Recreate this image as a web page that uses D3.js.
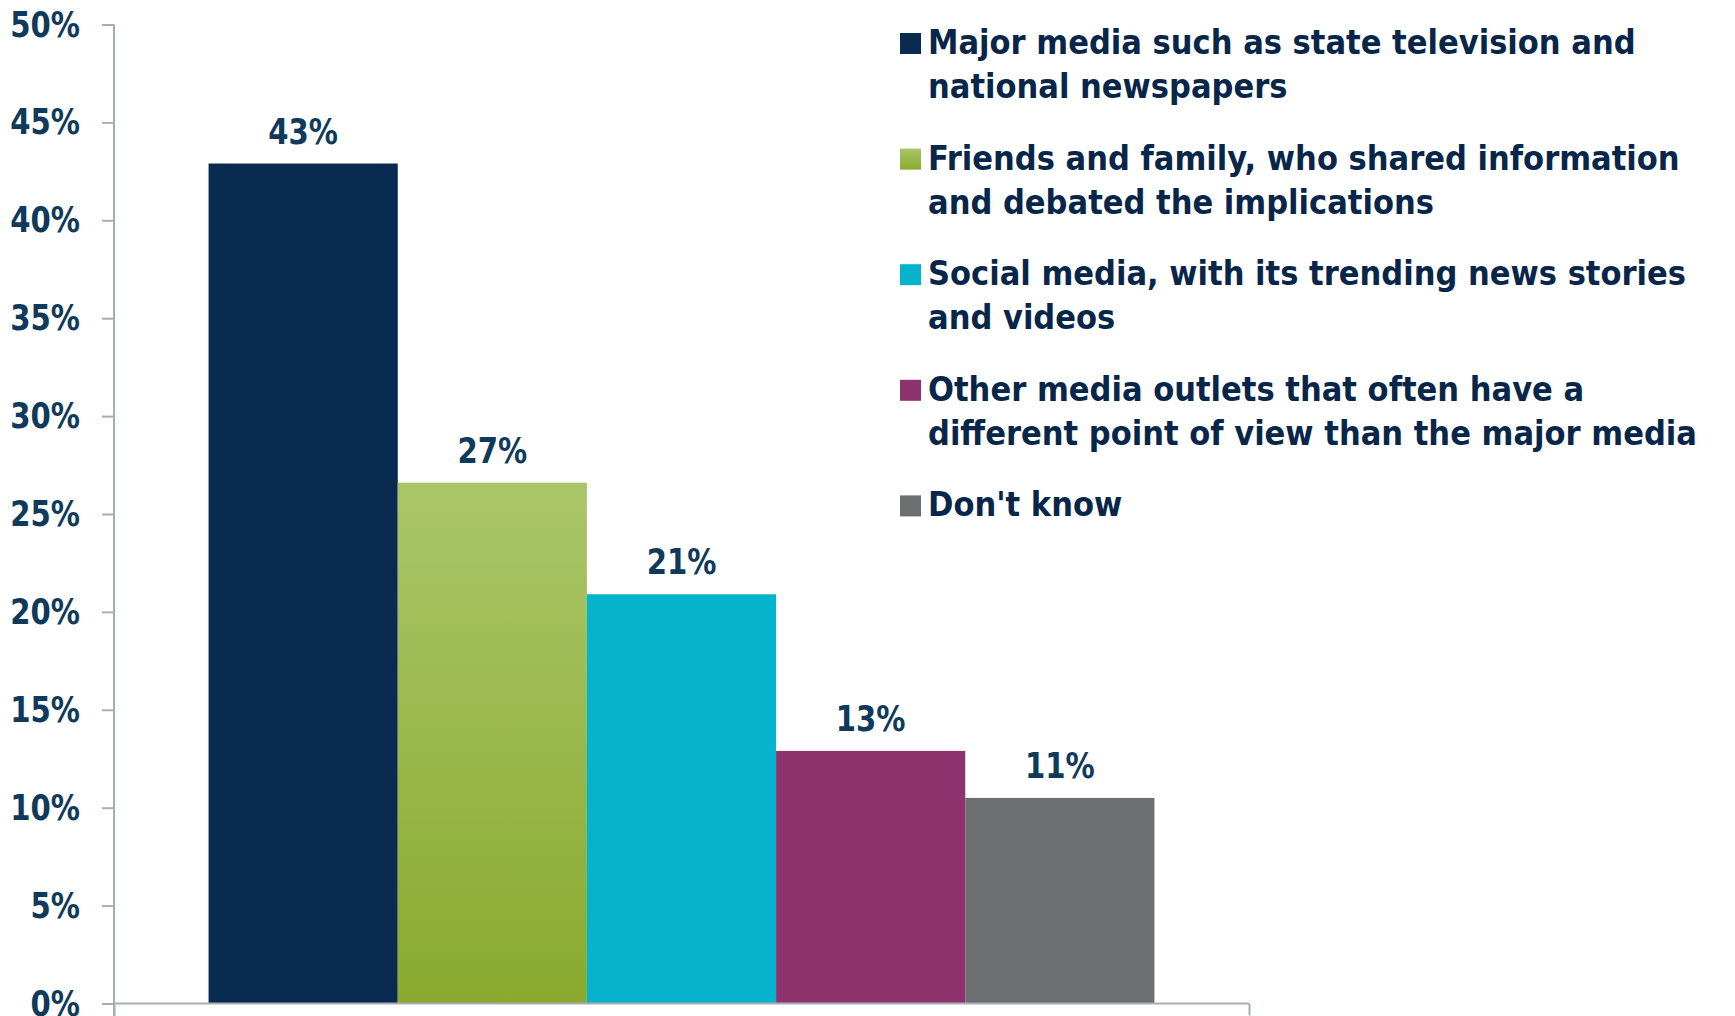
<!DOCTYPE html>
<html>
<head>
<meta charset="utf-8">
<script src="https://cdn.jsdelivr.net/npm/d3@7"></script>
<style>
  body { margin: 0; background: #ffffff; }
  text { font-family: "DejaVu Sans Condensed", "DejaVu Sans", sans-serif; font-weight: bold; font-stretch: condensed; }
  .axis path, .axis line { stroke: #a7acb5; stroke-width: 2; }
</style>
</head>
<body>
<div id="body"></div>
<script>
var category = ["Sources"];
var series = ["Major media such as state television and national newspapers",
              "Friends and family, who shared information and debated the implications",
              "Social media, with its trending news stories and videos",
              "Other media outlets that often have a different point of view than the major media",
              "Don't know"];
var legendLines = [["Major media such as state television and", "national newspapers"],
                   ["Friends and family, who shared information", "and debated the implications"],
                   ["Social media, with its trending news stories", "and videos"],
                   ["Other media outlets that often have a", "different point of view than the major media"],
                   ["Don't know"]];
var values = [42.9, 26.6, 20.9, 12.9, 10.5];
var valueLabels = ["43%", "27%", "21%", "13%", "11%"];
var yTicks = [0, 5, 10, 15, 20, 25, 30, 35, 40, 45, 50];
var colors = ["#082b4f", "url(#greenGrad)", "#05b3cc", "#8e326d", "#6d6e70"];

var width = 1735, height = 1016;
var margin = {top: 24.5, left: 114, bottom: 12.5};
var plotRight = 1249;
var squeeze = 0.9; // numbers in the original are a bit narrower

var svg = d3.select("#body").append("svg")
    .attr("width", width)
    .attr("height", height);

var defs = svg.append("defs");
var grad = defs.append("linearGradient")
    .attr("id", "greenGrad")
    .attr("x1", 0).attr("y1", 0).attr("x2", 0).attr("y2", 1);
grad.append("stop").attr("offset", "0%").attr("stop-color", "#aac669");
grad.append("stop").attr("offset", "100%").attr("stop-color", "#89aa2e");

var y = d3.scaleLinear()
    .domain([0, 50])
    .range([height - margin.bottom, margin.top]);

var x0 = d3.scaleBand()
    .domain(category)
    .range([margin.left, plotRight])
    .paddingOuter(0.1);

var x1 = d3.scaleBand()
    .domain(series)
    .range([0, x0.bandwidth()]);

// bars
var bars = svg.append("g").attr("class", "bars")
    .attr("transform", "translate(" + x0(category[0]) + ",0)");

bars.selectAll("rect")
    .data(values)
  .enter().append("rect")
    .attr("x", function(d, i) { return x1(series[i]); })
    .attr("y", function(d) { return y(d); })
    .attr("width", x1.bandwidth())
    .attr("height", function(d) { return y(0) - y(d); })
    .attr("fill", function(d, i) { return colors[i]; });

bars.selectAll("text.value")
    .data(values)
  .enter().append("text")
    .attr("class", "value")
    .attr("transform", function(d, i) {
        return "translate(" + (x1(series[i]) + x1.bandwidth() / 2) + "," + (y(d) - 20) + ") scale(" + squeeze + ",1)";
    })
    .attr("text-anchor", "middle")
    .attr("fill", "#0f3a5c")
    .style("font-size", "36px")
    .text(function(d, i) { return valueLabels[i]; });

// y axis
var yAxis = d3.axisLeft(y)
    .tickValues(yTicks)
    .tickSize(12)
    .tickPadding(22)
    .tickFormat(function(d) { return d + "%"; });

var gy = svg.append("g")
    .attr("class", "axis y")
    .attr("transform", "translate(" + margin.left + ",0)")
    .call(yAxis);
gy.select(".domain").remove();
gy.append("line")
    .attr("x1", 0).attr("x2", 0)
    .attr("y1", y(50)).attr("y2", height);
gy.selectAll(".tick text")
    .attr("x", -34 / squeeze)
    .attr("transform", "scale(" + squeeze + ",1)")
    .attr("fill", "#0f3a5c")
    .style("font-size", "36px");

// x axis baseline with end ticks
var xEdges = d3.scaleLinear().domain([0, 1]).range([margin.left, plotRight]);
var gx = svg.append("g")
    .attr("class", "axis x")
    .attr("transform", "translate(0," + y(0) + ")")
    .call(d3.axisBottom(xEdges).tickValues([0, 1]).tickSize(12).tickFormat(""));
gx.select(".domain").attr("d", "M" + margin.left + ",0H" + plotRight);

// legend
var legend = svg.append("g").attr("class", "legend");
var entry = legend.selectAll("g")
    .data(series)
  .enter().append("g")
    .attr("transform", function(d, i) { return "translate(900," + (54 + i * 115.6) + ")"; });

entry.append("rect")
    .attr("x", 0)
    .attr("y", -21)
    .attr("width", 21)
    .attr("height", 21)
    .attr("fill", function(d, i) { return colors[i]; });

entry.append("text")
    .attr("fill", "#08264a")
    .style("font-size", "34px")
    .selectAll("tspan")
    .data(function(d, i) { return legendLines[i]; })
  .enter().append("tspan")
    .attr("x", 28)
    .attr("dy", function(d, j) { return j === 0 ? 0 : 44; })
    .text(function(d) { return d; });
</script>
</body>
</html>
